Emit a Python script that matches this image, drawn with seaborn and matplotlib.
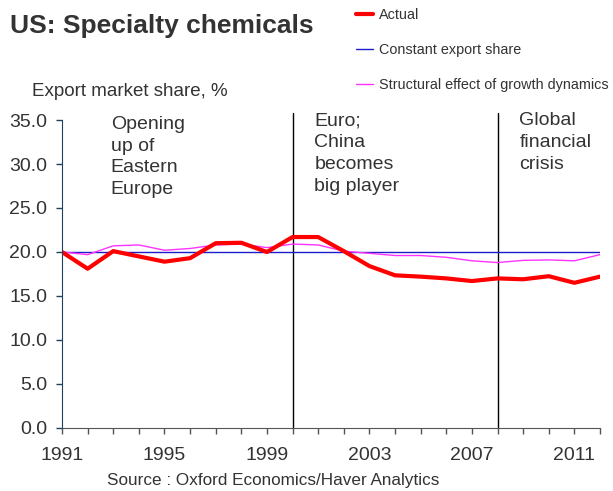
import matplotlib
matplotlib.use("Agg")
import matplotlib.pyplot as plt
import pandas as pd
import seaborn as sns
from matplotlib.lines import Line2D

# data
years = list(range(1991, 2013))
actual = [20.0, 18.1, 20.1, 19.5, 18.9, 19.3, 21.0, 21.05, 20.0, 21.7, 21.7,
          20.1, 18.4, 17.35, 17.2, 17.0, 16.7, 17.0, 16.9, 17.25, 16.5, 17.2]
constant_share = [20.0] * len(years)
structural = [20.0, 19.7, 20.7, 20.8, 20.2, 20.4, 20.8, 20.9, 20.5, 20.9, 20.8,
              20.1, 19.85, 19.6, 19.6, 19.4, 19.0, 18.8, 19.05, 19.1, 19.0, 19.7]
event_years = [2000, 2008]
event_labels = ["Euro;\nChina\nbecomes\nbig player", "Global\nfinancial\ncrisis"]
first_label = "Opening\nup of\nEastern\nEurope"
label_years = [1991, 1995, 1999, 2003, 2007, 2011]

df = pd.DataFrame({"Year": years, "Actual": actual,
                   "Constant export share": constant_share,
                   "Structural effect of growth dynamics": structural})

sns.set_style("white")
plt.rcParams["font.family"] = ["Liberation Sans", "DejaVu Sans"]
text_col = "#333333"

fig = plt.figure(figsize=(6.13, 4.91), dpi=100)
ax = fig.add_axes([62 / 613, 1 - 428 / 491, 538 / 613, 308 / 491])

red, blue, magenta = "#ff0000", "#1c1cc8", "#ff33ff"
sns.lineplot(data=df, x="Year", y="Constant export share", ax=ax, color=blue, lw=1.0)
sns.lineplot(data=df, x="Year", y="Structural effect of growth dynamics", ax=ax,
             color=magenta, lw=1.0)
sns.lineplot(data=df, x="Year", y="Actual", ax=ax, color=red, lw=3.0)

for yr in event_years:
    ax.plot([yr, yr], [0, 35.8], color="black", lw=1.0, clip_on=False, zorder=1)

ax.text(1992.9, 35.5, first_label, fontsize=14, color=text_col, va="top",
        linespacing=1.38)
ax.text(2000.85, 35.9, event_labels[0], fontsize=14, color=text_col, va="top",
        linespacing=1.38)
ax.text(2008.85, 35.9, event_labels[1], fontsize=14, color=text_col, va="top",
        linespacing=1.38)

ax.set_xlim(1991, 2012)
ax.set_ylim(0, 35)
ax.set_xticks(years)
ax.set_xticklabels([str(y) if y in label_years else "" for y in years])
ax.set_yticks([0, 5, 10, 15, 20, 25, 30, 35])
ax.set_yticklabels([f"{v:.1f}" for v in range(0, 36, 5)])
ax.set_xlabel("")
ax.set_ylabel("")
ax.tick_params(axis="both", direction="out", length=4.5, width=1, labelsize=14,
               labelcolor=text_col, bottom=True, left=True)
ax.tick_params(axis="y", colors="#1f3f5f", labelcolor=text_col, pad=6)
ax.tick_params(axis="x", colors="#555555", labelcolor=text_col, pad=9)
for s in ["top", "right"]:
    ax.spines[s].set_visible(False)
ax.spines["left"].set_color("#1f3f5f")
ax.spines["bottom"].set_color("#555555")

fig.text(10 / 613, 1 - 33 / 491, "US: Specialty chemicals", fontsize=19,
         fontweight="bold", color=text_col, va="baseline")
fig.text(32 / 613, 1 - 96 / 491, "Export market share, %", fontsize=13.5,
         color=text_col, va="baseline")
fig.text(273 / 613, 1 - 480 / 491, "Source : Oxford Economics/Haver Analytics",
         fontsize=12.3, color=text_col, ha="center", va="center")

handles = [Line2D([], [], color=red, lw=3),
           Line2D([], [], color=blue, lw=1),
           Line2D([], [], color=magenta, lw=1)]
labels = ["Actual", "Constant export share", "Structural effect of growth dynamics"]
leg = fig.legend(handles, labels, loc="upper left",
                 bbox_to_anchor=(350 / 613, 1 - 2 / 491), frameon=False,
                 fontsize=10.4, labelspacing=1.45, handlelength=1.2,
                 handletextpad=0.4, borderaxespad=0)
for t in leg.get_texts():
    t.set_color(text_col)

fig.savefig("out.png", dpi=100)
